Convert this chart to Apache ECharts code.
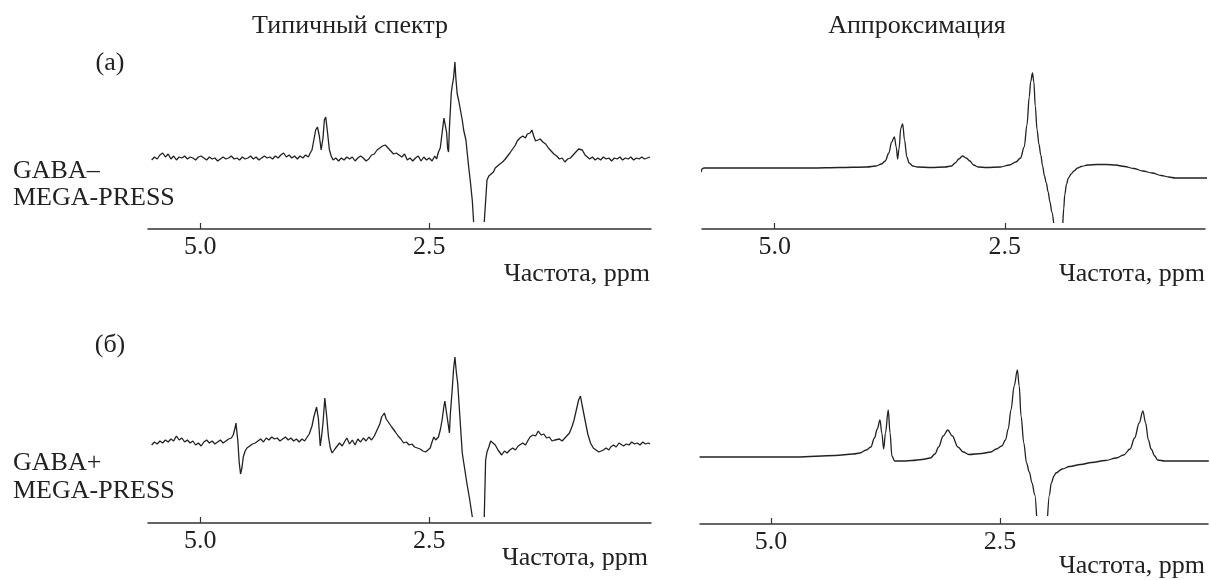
<!DOCTYPE html>
<html><head><meta charset="utf-8">
<script src="https://cdn.jsdelivr.net/npm/echarts@6/dist/echarts.min.js"></script>
<style>html,body{margin:0;padding:0;background:#fff}#c{width:1210px;height:580px}</style>
</head><body><div id="c"></div>
<script>
// ---- data (ppm, intensity in arbitrary units; null = clipped region) ----
const tickValues = [5.0, 2.5];
const colTitles = ['Типичный спектр', 'Аппроксимация'];
const rowLabels = ['(а)', '(б)'];
const rowNames = [['GABA–', 'MEGA-PRESS'], ['GABA+', 'MEGA-PRESS']];
const xName = 'Частота, ppm';

const spectrumMinus = [[5.53,-2],[5.50,1],[5.47,-1],[5.44,3],[5.41,5],[5.38,1],[5.35,4],[5.32,-1],[5.29,2],[5.26,-2],[5.23,1],[5.20,0],[5.17,2],[5.14,-1],[5.11,1],[5.08,0],[5.05,-2],[5.02,1],[4.99,2],[4.96,0],[4.93,-2],[4.90,1],[4.87,-1],[4.84,0],[4.81,-3],[4.78,-1],[4.75,1],[4.72,-1],[4.69,0],[4.66,2],[4.63,-1],[4.60,0],[4.57,-2],[4.54,1],[4.51,-1],[4.48,0],[4.45,2],[4.42,-1],[4.39,1],[4.36,-2],[4.33,0],[4.30,2],[4.27,0],[4.24,1],[4.21,-1],[4.18,2],[4.15,0],[4.12,3],[4.09,5],[4.06,1],[4.03,3],[4.00,0],[3.97,2],[3.94,-1],[3.91,2],[3.88,0],[3.85,3],[3.82,1],[3.80,5],[3.78,8],[3.76,18],[3.74,28],[3.72,31],[3.70,22],[3.68,8],[3.67,6],[3.66,20],[3.645,38],[3.63,41],[3.61,25],[3.59,8],[3.57,2],[3.55,-2],[3.52,0],[3.49,-3],[3.46,0],[3.43,-2],[3.40,1],[3.37,-1],[3.34,1],[3.31,-3],[3.28,0],[3.25,2],[3.22,0],[3.19,-3],[3.16,-1],[3.13,3],[3.10,4],[3.07,8],[3.04,10],[3.01,12],[2.98,13],[2.95,10],[2.92,7],[2.89,4],[2.86,5],[2.83,3],[2.80,1],[2.77,4],[2.74,-2],[2.71,0],[2.68,-3],[2.65,0],[2.62,2],[2.59,-3],[2.56,1],[2.53,-2],[2.50,0],[2.47,-3],[2.44,2],[2.42,-1],[2.40,6],[2.38,10],[2.36,25],[2.34,40],[2.33,41],[2.31,25],[2.30,10],[2.29,6],[2.28,30],[2.26,65],[2.25,72],[2.235,80],[2.22,96],[2.21,80],[2.195,64],[2.18,58],[2.16,48],[2.14,38],[2.125,28],[2.10,18],[2.07,-9],[2.05,-25],[2.03,-43],[2.016,-64],[1.96,null],[1.90,-64],[1.87,-22],[1.85,-18],[1.83,-16],[1.80,-14],[1.78,-10],[1.76,-11],[1.73,-6],[1.70,-4],[1.67,-1],[1.65,1],[1.62,5],[1.59,9],[1.56,13],[1.54,17],[1.51,20],[1.48,22],[1.45,20],[1.43,24],[1.40,25],[1.38,28],[1.36,22],[1.34,17],[1.32,15],[1.29,19],[1.26,16],[1.23,14],[1.20,10],[1.17,7],[1.14,4],[1.11,2],[1.08,-1],[1.05,0],[1.02,-4],[0.99,-1],[0.96,0],[0.93,3],[0.90,6],[0.87,9],[0.85,11],[0.83,8],[0.80,3],[0.78,1],[0.75,-1],[0.72,1],[0.69,-2],[0.66,0],[0.63,-2],[0.60,1],[0.57,-1],[0.54,0],[0.51,-3],[0.48,0],[0.45,-1],[0.42,1],[0.39,-2],[0.36,0],[0.33,-1],[0.30,1],[0.27,-2],[0.24,0],[0.21,-1],[0.18,1],[0.15,-1],[0.12,0],[0.09,1]];

const fitMinus = [[5.80,-4],[5.79,-1],[5.77,0],[5.2,0],[4.6,0],[4.3,0.5],[4.0,1],[3.90,2],[3.84,4],[3.80,7],[3.76,15],[3.73,26],[3.70,31],[3.68,21],[3.665,9],[3.65,19],[3.63,40],[3.61,44],[3.59,28],[3.565,11],[3.54,5],[3.50,2],[3.45,1],[3.30,0.5],[3.15,1],[3.08,2],[3.04,5],[3.00,9],[2.96,12],[2.92,10],[2.88,7],[2.84,3],[2.79,1],[2.70,0.5],[2.55,1],[2.45,3],[2.38,6],[2.33,10],[2.29,21],[2.26,43],[2.235,71],[2.22,86],[2.20,95],[2.185,86],[2.17,62],[2.15,38],[2.13,24],[2.11,13],[2.09,2],[2.07,-8],[2.05,-15],[2.03,-24],[2.01,-34],[1.99,-44],[1.97,-55],[1.92,null],[1.87,-55],[1.86,-40],[1.85,-27],[1.83,-16],[1.81,-10],[1.78,-6],[1.75,-3],[1.71,0],[1.67,1.5],[1.60,3],[1.50,3.5],[1.40,3.5],[1.30,3],[1.20,1.5],[1.10,-0.5],[1.00,-3],[0.90,-5],[0.80,-7.5],[0.72,-9],[0.65,-10],[0.57,-10],[0.45,-10],[0.30,-10]];

const spectrumPlus = [[5.53,-1],[5.50,2],[5.47,0],[5.44,3],[5.41,1],[5.38,4],[5.35,2],[5.32,5],[5.29,3],[5.26,8],[5.23,4],[5.20,6],[5.17,2],[5.14,4],[5.11,1],[5.08,3],[5.05,-1],[5.02,1],[4.99,-2],[4.96,2],[4.93,4],[4.90,1],[4.87,3],[4.84,0],[4.81,2],[4.78,4],[4.75,1],[4.72,3],[4.69,5],[4.66,6],[4.64,9],[4.62,16],[4.61,21],[4.60,12],[4.59,4],[4.575,-18],[4.56,-30],[4.545,-24],[4.53,-13],[4.51,-7],[4.49,-4],[4.46,-2],[4.43,0],[4.40,1],[4.37,3],[4.34,5],[4.31,2],[4.28,6],[4.25,4],[4.22,7],[4.19,5],[4.16,6],[4.13,3],[4.10,5],[4.07,7],[4.04,4],[4.01,6],[3.98,3],[3.95,5],[3.92,2],[3.89,5],[3.86,3],[3.84,6],[3.81,10],[3.78,18],[3.76,27],[3.73,37],[3.71,25],[3.69,-2],[3.675,8],[3.66,21],[3.64,46],[3.62,28],[3.60,7],[3.58,-4],[3.56,-9],[3.53,-5],[3.51,-3],[3.48,1],[3.45,-2],[3.42,3],[3.40,6],[3.37,0],[3.34,4],[3.31,-1],[3.28,5],[3.25,2],[3.22,6],[3.19,3],[3.16,7],[3.13,4],[3.10,8],[3.07,14],[3.04,20],[3.02,27],[2.99,31],[2.97,25],[2.94,21],[2.91,17],[2.87,12],[2.84,8],[2.81,5],[2.78,1],[2.75,2],[2.72,-1],[2.69,0],[2.66,-3],[2.63,-4],[2.60,-5],[2.57,-7],[2.54,-8],[2.52,-10],[2.49,-4],[2.47,2],[2.45,7],[2.43,4],[2.40,7],[2.38,14],[2.36,24],[2.34,38],[2.33,43],[2.31,30],[2.30,24],[2.28,11],[2.27,30],[2.25,54],[2.235,75],[2.22,87],[2.205,72],[2.19,61],[2.165,26],[2.14,-9],[2.115,-24],[2.09,-39],[2.06,-55],[2.03,-73],[1.96,null],[1.90,-73],[1.885,-16],[1.87,-8],[1.85,-3],[1.83,3],[1.81,1],[1.78,-1],[1.75,-6],[1.71,-11],[1.68,-7],[1.65,-9],[1.62,-6],[1.59,-4],[1.56,-6],[1.53,-2],[1.51,-3],[1.48,1],[1.45,-1],[1.42,4],[1.40,7],[1.37,9],[1.34,8],[1.31,13],[1.28,9],[1.25,10],[1.22,6],[1.19,7],[1.16,3],[1.13,4],[1.11,2],[1.08,5],[1.05,3],[1.02,6],[1.00,7],[0.97,11],[0.94,18],[0.92,24],[0.89,36],[0.87,44],[0.85,48],[0.83,38],[0.80,24],[0.77,10],[0.74,1],[0.71,-4],[0.68,-6],[0.65,-8],[0.63,-9],[0.60,-6],[0.57,-4],[0.54,-6],[0.52,-3],[0.49,-1],[0.46,-3],[0.43,1],[0.41,1],[0.38,-2],[0.35,0],[0.32,-1],[0.29,2],[0.26,0],[0.23,1],[0.20,-1],[0.17,2],[0.14,0],[0.11,1],[0.09,0]];

const fitPlus = [[5.78,0],[5.2,0],[4.72,0],[4.30,1.5],[4.10,3],[4.03,4],[3.96,7],[3.91,10],[3.87,19],[3.84,28],[3.81,37],[3.79,24],[3.77,8],[3.75,24],[3.72,47],[3.70,24],[3.68,1],[3.65,-4],[3.55,-4],[3.46,-3.5],[3.35,-2.5],[3.26,-1],[3.21,3],[3.17,10],[3.12,21],[3.07,27],[3.02,21],[2.96,10],[2.90,5],[2.84,2.5],[2.70,3.5],[2.60,5],[2.54,8],[2.48,11],[2.44,17],[2.41,28],[2.38,47],[2.345,71],[2.31,87],[2.29,71],[2.27,41],[2.24,14],[2.21,-6],[2.18,-15],[2.15,-26],[2.12,-38],[2.10,-59],[2.04,null],[1.98,-59],[1.96,-38],[1.94,-26],[1.91,-19],[1.89,-16],[1.82,-12],[1.74,-9.5],[1.62,-7.5],[1.50,-5.5],[1.35,-3.5],[1.23,-1],[1.15,2],[1.08,8],[1.03,19],[0.98,34],[0.94,46],[0.91,34],[0.88,17],[0.85,8],[0.81,1],[0.78,-3],[0.70,-4],[0.50,-4],[0.22,-4]];

// ---- layout ----
const FONT = 'Liberation Serif';
const INK = '#222';
const panels = [
  {grid:{left:148, right:559, top:58, bottom:351}, x:[0.08,5.57], y:[-71,100], data:spectrumMinus, smooth:false},
  {grid:{left:702, right:5,   top:58, bottom:351}, x:[0.326,5.79], y:[-61,110], data:fitMinus, smooth:true},
  {grid:{left:148, right:559, top:350, bottom:57}, x:[0.08,5.57], y:[-79,94], data:spectrumPlus, smooth:false},
  {grid:{left:700, right:2,   top:360, bottom:56}, x:[0.229,5.775], y:[-67,97], data:fitPlus, smooth:true}
];

const option = {
  backgroundColor:'#fff',
  animation:false,
  grid: panels.map(p => p.grid),
  xAxis: panels.map((p,i) => ({
    type:'value', gridIndex:i, inverse:true, min:p.x[0], max:p.x[1],
    axisLine:{show:true, onZero:false, lineStyle:{color:'#333', width:1.5}},
    axisTick:{show:true, inside:true, length:6, lineStyle:{color:'#333', width:1.2}, customValues:tickValues},
    axisLabel:{show:true, customValues:tickValues, margin:5, formatter:v=>Number(v).toFixed(1),
      fontFamily:FONT, fontSize:26, color:INK},
    splitLine:{show:false}
  })),
  yAxis: panels.map((p,i) => ({
    type:'value', gridIndex:i, min:p.y[0], max:p.y[1], show:false, splitLine:{show:false}
  })),
  series: panels.map((p,i) => ({
    type:'line', xAxisIndex:i, yAxisIndex:i, data:p.data, showSymbol:false, symbol:'none',
    smooth:p.smooth ? 0.35 : false, smoothMonotone: p.smooth ? 'x' : undefined,
    connectNulls:false, clip:true,
    lineStyle:{color:'#222', width:1.3}
  })),
  graphic: [
    {type:'text', x:350, y:26, style:{text:colTitles[0], font:'26px "'+FONT+'"', fill:INK, textAlign:'center', textVerticalAlign:'middle'}},
    {type:'text', x:917, y:26, style:{text:colTitles[1], font:'26px "'+FONT+'"', fill:INK, textAlign:'center', textVerticalAlign:'middle'}},
    {type:'text', x:110, y:63, style:{text:rowLabels[0], font:'26px "'+FONT+'"', fill:INK, textAlign:'center', textVerticalAlign:'middle'}},
    {type:'text', x:110, y:345, style:{text:rowLabels[1], font:'26px "'+FONT+'"', fill:INK, textAlign:'center', textVerticalAlign:'middle'}},
    {type:'text', x:13, y:171, style:{text:rowNames[0][0], font:'26px "'+FONT+'"', fill:INK, textAlign:'left', textVerticalAlign:'middle'}},
    {type:'text', x:13, y:198, style:{text:rowNames[0][1], font:'26px "'+FONT+'"', fill:INK, textAlign:'left', textVerticalAlign:'middle'}},
    {type:'text', x:13, y:463, style:{text:rowNames[1][0], font:'26px "'+FONT+'"', fill:INK, textAlign:'left', textVerticalAlign:'middle'}},
    {type:'text', x:13, y:491, style:{text:rowNames[1][1], font:'26px "'+FONT+'"', fill:INK, textAlign:'left', textVerticalAlign:'middle'}},
    {type:'text', x:650, y:274, style:{text:xName, font:'26px "'+FONT+'"', fill:INK, textAlign:'right', textVerticalAlign:'middle'}},
    {type:'text', x:1205, y:274, style:{text:xName, font:'26px "'+FONT+'"', fill:INK, textAlign:'right', textVerticalAlign:'middle'}},
    {type:'text', x:648, y:558, style:{text:xName, font:'26px "'+FONT+'"', fill:INK, textAlign:'right', textVerticalAlign:'middle'}},
    {type:'text', x:1205, y:566, style:{text:xName, font:'26px "'+FONT+'"', fill:INK, textAlign:'right', textVerticalAlign:'middle'}}
  ]
};
const chart = echarts.init(document.getElementById('c'), null, {renderer:'canvas'});
chart.setOption(option);
</script>
</body></html>
